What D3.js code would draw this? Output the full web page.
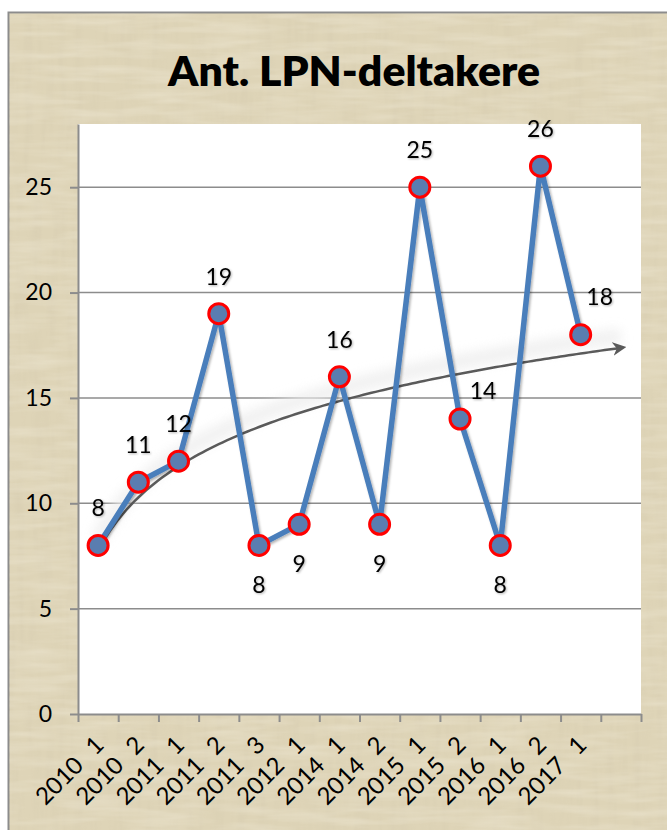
<!DOCTYPE html>
<html>
<head>
<meta charset="utf-8">
<script src="https://cdn.jsdelivr.net/npm/d3@7"></script>
<style>
  html, body { margin: 0; padding: 0; background: #ffffff; }
  svg { display: block; }
  text { font-family: Lato, "Open Sans", sans-serif; }
</style>
</head>
<body>
<svg id="chart" width="667" height="830"></svg>
<script>
// ---- data ----
const categories = ["2010 1","2010 2","2011 1","2011 2","2011 3","2012 1","2014 1","2014 2","2015 1","2015 2","2016 1","2016 2","2017 1"];
const values = [8, 11, 12, 19, 8, 9, 16, 9, 25, 14, 8, 26, 18];
const labelPlacement = ["above","above","above","above","below","below","above","below","above","rightLow","below","above","rightHigh"];
const yTicks = [0, 5, 10, 15, 20, 25];
const forecastPeriods = 1;
const title = "Ant. LPN-deltakere";

// ---- layout ----
const W = 667, H = 830;
const plot = { left: 78, right: 641, top: 124, bottom: 714 };

const svg = d3.select("#chart");
const defs = svg.append("defs");

// parchment texture
const tex = defs.append("filter").attr("id", "paper").attr("x", 0).attr("y", 0).attr("width", "100%").attr("height", "100%");
tex.append("feTurbulence").attr("type", "fractalNoise").attr("baseFrequency", "0.12 0.015").attr("numOctaves", 3).attr("seed", 4).attr("result", "n1");
tex.append("feColorMatrix").attr("in", "n1").attr("type", "matrix")
  .attr("values", "0 0 0 0 0.62  0 0 0 0 0.55  0 0 0 0 0.4  1.2 0 0 0 -0.5").attr("result", "c1");
tex.append("feTurbulence").attr("type", "fractalNoise").attr("baseFrequency", "0.015 0.12").attr("numOctaves", 3).attr("seed", 9).attr("result", "n2");
tex.append("feColorMatrix").attr("in", "n2").attr("type", "matrix")
  .attr("values", "0 0 0 0 0.97  0 0 0 0 0.94  0 0 0 0 0.84  1.3 0 0 0 -0.5").attr("result", "c2");
tex.append("feMerge").selectAll("feMergeNode").data(["c1", "c2"]).join("feMergeNode").attr("in", d => d);

const shadow = defs.append("filter").attr("id", "shadow").attr("x", "-20%").attr("y", "-20%").attr("width", "140%").attr("height", "140%");
shadow.append("feDropShadow").attr("dx", 1.5).attr("dy", 1.5).attr("stdDeviation", 1.2).attr("flood-color", "#000").attr("flood-opacity", 0.3);

const tshadow = defs.append("filter").attr("id", "tshadow").attr("x", "-20%").attr("y", "-20%").attr("width", "140%").attr("height", "140%");
tshadow.append("feDropShadow").attr("dx", 1).attr("dy", 1).attr("stdDeviation", 0.8).attr("flood-color", "#000").attr("flood-opacity", 0.3);

const glow = defs.append("filter").attr("id", "glow").attr("x", "-10%").attr("y", "-50%").attr("width", "120%").attr("height", "200%");
glow.append("feGaussianBlur").attr("stdDeviation", 6);

defs.append("marker").attr("id", "arrow").attr("viewBox", "0 0 10 10")
  .attr("refX", 6).attr("refY", 5).attr("markerWidth", 5.5).attr("markerHeight", 5.5)
  .attr("orient", "auto").attr("markerUnits", "strokeWidth")
  .append("path").attr("d", "M0,0 L10,5 L0,10 L3,5 Z").attr("fill", "#5a5a5a");

// background frame
svg.append("rect").attr("x", 8.5).attr("y", 12.5).attr("width", W).attr("height", H)
  .attr("fill", "#ded4b7").attr("stroke", "#8c8c8c").attr("stroke-width", 2);
svg.append("rect").attr("x", 9.5).attr("y", 13.5).attr("width", W).attr("height", H)
  .attr("filter", "url(#paper)").attr("opacity", 0.4);

// title
svg.append("text").attr("x", 354).attr("y", 86).attr("text-anchor", "middle")
  .attr("font-size", 41).attr("font-weight", 800).attr("fill", "#000")
  .attr("textLength", 372).attr("lengthAdjust", "spacingAndGlyphs").text(title);

// plot area
svg.append("rect").attr("x", plot.left).attr("y", plot.top)
  .attr("width", plot.right - plot.left).attr("height", plot.bottom - plot.top).attr("fill", "#ffffff");

// scales
const nBands = categories.length + forecastPeriods;
const x = d3.scaleBand().domain(d3.range(nBands)).range([plot.left, plot.right]).padding(0);
const y = d3.scaleLinear().domain([0, 28]).range([plot.bottom, plot.top]);
const cx = i => x(i) + x.bandwidth() / 2;

// gridlines
svg.append("g").selectAll("line").data(yTicks.filter(v => v > 0)).join("line")
  .attr("x1", plot.left).attr("x2", plot.right)
  .attr("y1", d => y(d)).attr("y2", d => y(d))
  .attr("stroke", "#8c8c8c").attr("stroke-width", 1.5);

// y axis
const yAxis = svg.append("g").attr("transform", `translate(${plot.left},0)`)
  .call(d3.axisLeft(y).tickValues(yTicks).tickSize(8).tickSizeOuter(0).tickPadding(18));
yAxis.select(".domain").attr("stroke", "#8c8c8c").attr("stroke-width", 2);
yAxis.selectAll(".tick line").attr("stroke", "#8c8c8c").attr("stroke-width", 2);
yAxis.selectAll(".tick text").attr("font-size", 23).attr("fill", "#000").attr("font-family", "Lato, sans-serif");

// x axis (ticks between categories)
const xLin = d3.scaleLinear().domain([0, nBands]).range([plot.left, plot.right]);
const xAxis = svg.append("g").attr("transform", `translate(0,${plot.bottom})`)
  .call(d3.axisBottom(xLin).tickValues(d3.range(nBands + 1)).tickSize(8).tickSizeOuter(0).tickFormat(""));
xAxis.select(".domain").attr("stroke", "#8c8c8c").attr("stroke-width", 2);
xAxis.selectAll(".tick line").attr("stroke", "#8c8c8c").attr("stroke-width", 2);

// category labels
svg.append("g").selectAll("text").data(categories).join("text")
  .attr("transform", (d, i) => `translate(${cx(i) + 3},${plot.bottom + 28}) rotate(-45)`)
  .attr("text-anchor", "end").attr("dominant-baseline", "middle")
  .attr("font-size", 24).attr("word-spacing", 9).attr("fill", "#000").text(d => d);

// trend line (logarithmic least squares fit)
const lnX = values.map((v, i) => Math.log(i + 1));
const mL = d3.mean(lnX), mY = d3.mean(values);
const b = d3.sum(lnX, (l, i) => (l - mL) * (values[i] - mY)) / d3.sum(lnX, l => (l - mL) ** 2);
const a = mY - b * mL;
const trendPts = d3.range(0, categories.length - 1 + forecastPeriods + 0.001, 0.1)
  .map(t => [x(0) + x.bandwidth() / 2 + t * x.bandwidth(), y(a + b * Math.log(t + 1))]);
const lineGen = d3.line();
svg.append("path").attr("d", lineGen(trendPts.map(p => [p[0], p[1] - 12])))
  .attr("fill", "none").attr("stroke", "#ececec").attr("stroke-width", 14).attr("filter", "url(#glow)").attr("opacity", 0.8);
svg.append("path").attr("d", lineGen(trendPts))
  .attr("fill", "none").attr("stroke", "#5a5a5a").attr("stroke-width", 2.5)
  .attr("marker-end", "url(#arrow)");

// series line
const serLine = d3.line().x((d, i) => cx(i)).y(d => y(d));
svg.append("path").datum(values).attr("d", serLine)
  .attr("fill", "none").attr("stroke", "#4a7ebb").attr("stroke-width", 5.5)
  .attr("stroke-linejoin", "round").attr("filter", "url(#shadow)");

// markers
svg.append("g").selectAll("circle").data(values).join("circle")
  .attr("cx", (d, i) => cx(i)).attr("cy", d => y(d)).attr("r", 10)
  .attr("fill", "#5a7db0").attr("stroke", "#ff0000").attr("stroke-width", 3);

// data labels
const offsets = {
  above: [0, -29], below: [0, 48], rightLow: [23, -20], rightHigh: [19, -30]
};
svg.append("g").selectAll("text").data(values).join("text")
  .attr("x", (d, i) => cx(i) + offsets[labelPlacement[i]][0])
  .attr("y", (d, i) => y(d) + offsets[labelPlacement[i]][1])
  .attr("text-anchor", "middle").attr("font-size", 23).attr("fill", "#000")
  .attr("filter", "url(#tshadow)").text(d => d);
</script>
</body>
</html>
